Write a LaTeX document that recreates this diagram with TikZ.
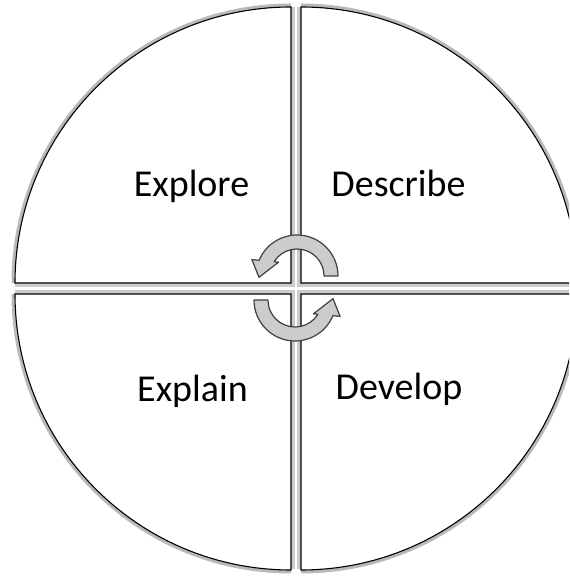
\documentclass[tikz,border=0pt]{standalone}
\usepackage{fontspec}
\setmainfont{Carlito}
\begin{document}
\begin{tikzpicture}[x=1pt,y=1pt,
  quad/.style={draw=black,line width=1.1pt,fill=white},
  rim/.style={draw=gray!55,line width=4pt},
  label/.style={font=\fontsize{38}{40}\selectfont,anchor=base,inner sep=0pt},
  arrowshape/.style={fill=gray!40,draw=black!75,line width=1.2pt,line join=round},
  cyc/.pic={\path[arrowshape] (0:41) arc[start angle=0,end angle=157.5,radius=41]
     -- (160:48) -- (182:38) -- (143:23) -- (148:27)
     arc[start angle=148,end angle=0,radius=27] -- cycle;}]
\useasboundingbox (0,0) rectangle (569,577);
\clip (0,0) rectangle (569,577);
% shadows of the rim
\draw[rim] (13.5,294) arc[start angle=180,end angle=90,radius=277.5];
\draw[rim] (301,571.5) arc[start angle=90,end angle=0,radius=277.5];
\draw[rim] (13.5,283) arc[start angle=180,end angle=270,radius=277.5];
\draw[rim] (301,5.5) arc[start angle=270,end angle=360,radius=277.5];
% gaps
\fill[gray!40] (291,8) rectangle (301,570);
\fill[gray!40] (15,283) rectangle (569,294);
\draw[white,line width=2.5pt] (296,8) -- (296,570);
\draw[white,line width=2.5pt] (15,288.5) -- (569,288.5);
% quadrants
\path[quad] (291,294) -- (15,294) arc[start angle=180,end angle=90,radius=276] -- cycle;
\path[quad] (301,294) -- (301,570) arc[start angle=90,end angle=0,radius=276] -- cycle;
\path[quad] (291,283) -- (15,283) arc[start angle=180,end angle=270,radius=276] -- cycle;
\path[quad] (301,283) -- (301,7) arc[start angle=270,end angle=360,radius=276] -- cycle;
% labels
\node[label] (explore) at (191.5,380) {Explore};
\node[label] (describe) at (398.5,380) {Describe};
\node[label] (explain) at (192.5,175) {Explain};
\node[label] (develop) at (399,177) {Develop};
% cycle arrows
\pic (arrowtop) at (297,301) {cyc};
\pic[rotate=180] (arrowbottom) at (295,277) {cyc};
\end{tikzpicture}
\end{document}
